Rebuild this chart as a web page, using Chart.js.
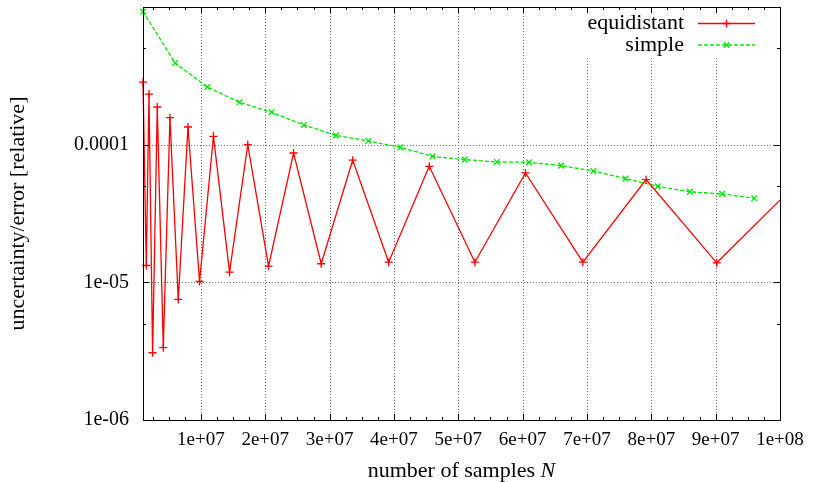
<!DOCTYPE html>
<html>
<head>
<meta charset="utf-8">
<script src="https://cdn.jsdelivr.net/npm/chart.js@4/dist/chart.umd.min.js"></script>
<style>
  html, body { margin: 0; padding: 0; background: #fff; }
  #chart { display: block; }
</style>
</head>
<body>
<canvas id="chart" width="814" height="482"></canvas>
<script>
'use strict';

// number of samples for the equidistant grid, and its relative error
var equidistantN = [1.0e6, 1.51e6, 1.93e6, 2.49e6, 3.22e6, 4.15e6, 5.19e6, 6.48e6, 7.99e6, 9.79e6,
    1.195e7, 1.445e7, 1.728e7, 2.051e7, 2.44e7, 2.87e7, 3.359e7, 3.918e7, 4.548e7, 5.258e7,
    6.044e7, 6.936e7, 7.919e7, 9.017e7, 1.022e8];
var equidistantErr = [2.85e-4, 1.325e-5, 2.33e-4, 3.08e-6, 1.877e-4, 3.35e-6, 1.57e-4, 7.51e-6, 1.344e-4, 1.014e-5,
    1.149e-4, 1.185e-5, 1.0e-4, 1.31e-5, 8.70e-5, 1.364e-5, 7.72e-5, 1.40e-5, 6.96e-5, 1.40e-5,
    6.23e-5, 1.40e-5, 5.57e-5, 1.386e-5, 5.0e-5];

// simple sampling, estimated uncertainty
var simpleN = [1e6, 6e6, 11e6, 16e6, 21e6, 26e6, 31e6, 36e6, 41e6, 46e6,
    51e6, 56e6, 61e6, 66e6, 71e6, 76e6, 81e6, 86e6, 91e6, 96e6];
var simpleErr = [9.27e-4, 3.92e-4, 2.62e-4, 2.03e-4, 1.72e-4, 1.39e-4, 1.168e-4, 1.064e-4, 9.56e-5, 8.22e-5,
    7.79e-5, 7.49e-5, 7.44e-5, 7.04e-5, 6.44e-5, 5.67e-5, 4.98e-5, 4.54e-5, 4.39e-5, 4.08e-5];

var xTickValues = [1e7, 2e7, 3e7, 4e7, 5e7, 6e7, 7e7, 8e7, 9e7, 1e8];
var xTickLabels = ['1e+07', '2e+07', '3e+07', '4e+07', '5e+07', '6e+07', '7e+07', '8e+07', '9e+07', '1e+08'];
var xMinorStep = 2.5e6;
var yTickValues = [1e-6, 1e-5, 1e-4, 1e-3];
var yTickLabels = ['1e-06', '1e-05', '0.0001', ''];
var yMinorValues = [5e-6, 5e-5, 5e-4];

var FONT = "'Liberation Serif', 'Times New Roman', serif";
Chart.defaults.font.family = FONT;
Chart.defaults.font.size = 19;
Chart.defaults.color = '#000';

function toPoints(xs, ys) {
    return xs.map(function(x, i) { return { x: x, y: ys[i] }; });
}

// dotted grid, frame and inward (mirrored) tick marks like gnuplot
var framePlugin = {
    id: 'frame',
    beforeDatasetsDraw: function(chart) {
        var ctx = chart.ctx, a = chart.chartArea;
        var xs = chart.scales.x, ys = chart.scales.y;
        ctx.save();
        ctx.strokeStyle = '#6a6a6a';
        ctx.lineWidth = 1;
        ctx.setLineDash([1, 2]);
        xTickValues.forEach(function(v) {
            var px = Math.round(xs.getPixelForValue(v)) + 0.5;
            if (px >= a.right - 1) return;
            ctx.beginPath(); ctx.moveTo(px, a.top); ctx.lineTo(px, a.bottom); ctx.stroke();
        });
        yTickValues.forEach(function(v) {
            var py = Math.round(ys.getPixelForValue(v)) + 0.5;
            if (py <= a.top + 1 || py >= a.bottom - 1) return;
            ctx.beginPath(); ctx.moveTo(a.left, py); ctx.lineTo(a.right, py); ctx.stroke();
        });
        ctx.restore();
    },
    afterDraw: function(chart) {
        var ctx = chart.ctx, a = chart.chartArea;
        var xs = chart.scales.x, ys = chart.scales.y;
        ctx.save();
        ctx.strokeStyle = '#000';
        ctx.lineWidth = 1;
        ctx.setLineDash([]);

        function tickX(v, len) {
            var px = Math.round(xs.getPixelForValue(v)) + 0.5;
            ctx.beginPath();
            ctx.moveTo(px, a.bottom); ctx.lineTo(px, a.bottom - len);
            ctx.moveTo(px, a.top); ctx.lineTo(px, a.top + len);
            ctx.stroke();
        }
        function tickY(v, len) {
            var py = Math.round(ys.getPixelForValue(v)) + 0.5;
            ctx.beginPath();
            ctx.moveTo(a.left, py); ctx.lineTo(a.left + len, py);
            ctx.moveTo(a.right, py); ctx.lineTo(a.right - len, py);
            ctx.stroke();
        }
        for (var v = xMinorStep; v < xs.max; v += xMinorStep) {
            if (v >= xs.min) tickX(v, xTickValues.indexOf(v) >= 0 ? 6 : 3);
        }
        yTickValues.forEach(function(v) { tickY(v, 6); });
        yMinorValues.forEach(function(v) { tickY(v, 3); });

        ctx.strokeRect(Math.round(a.left) + 0.5, Math.round(a.top) + 0.5,
            Math.round(a.right - a.left), Math.round(a.bottom - a.top));

        // x axis title with italic N
        var cx = (a.left + a.right) / 2, cy = 471;
        ctx.fillStyle = '#000';
        ctx.textBaseline = 'middle';
        ctx.font = '22px ' + FONT;
        var part1 = 'number of samples ';
        var w1 = ctx.measureText(part1).width;
        ctx.font = 'italic 22px ' + FONT;
        var w2 = ctx.measureText('N').width;
        var x0 = cx - (w1 + w2) / 2;
        ctx.font = '22px ' + FONT;
        ctx.textAlign = 'left';
        ctx.fillText(part1, x0, cy);
        ctx.font = 'italic 22px ' + FONT;
        ctx.fillText('N', x0 + w1, cy);
        ctx.restore();
    }
};

// key in the top right corner: label on the left, line sample on the right
var keyPlugin = {
    id: 'key',
    afterDatasetsDraw: function(chart) {
        var ctx = chart.ctx;
        var textRight = 684, lineL = 698, lineR = 755, rows = [23.5, 45];
        ctx.save();
        ctx.fillStyle = '#fff';
        ctx.fillRect(578, 8, 186, 48);
        chart.data.datasets.forEach(function(ds, i) {
            var y = rows[i];
            ctx.fillStyle = '#000';
            ctx.font = '22px ' + FONT;
            ctx.textAlign = 'right';
            ctx.textBaseline = 'middle';
            ctx.fillText(ds.label, textRight, y);
            ctx.strokeStyle = ds.borderColor;
            ctx.lineWidth = ds.borderWidth;
            ctx.setLineDash(ds.borderDash || []);
            ctx.beginPath(); ctx.moveTo(lineL, y); ctx.lineTo(lineR, y); ctx.stroke();
            ctx.setLineDash([]);
            Chart.helpers.drawPoint(ctx, {
                pointStyle: ds.pointStyle,
                radius: ds.pointRadius,
                borderWidth: ds.pointBorderWidth,
                rotation: 0
            }, (lineL + lineR) / 2, y);
        });
        ctx.restore();
    }
};

new Chart(document.getElementById('chart'), {
    type: 'line',
    data: {
        datasets: [
            {
                label: 'equidistant',
                data: toPoints(equidistantN, equidistantErr),
                borderColor: '#ff0000',
                backgroundColor: '#ff0000',
                borderWidth: 1.3,
                pointStyle: 'cross',
                pointRadius: 4,
                pointBorderWidth: 1.3,
                tension: 0,
                fill: false,
                clip: { left: 8, top: 8, right: 0, bottom: 8 }
            },
            {
                label: 'simple',
                data: toPoints(simpleN, simpleErr),
                borderColor: '#00e600',
                backgroundColor: '#00e600',
                borderWidth: 1.3,
                borderDash: [4, 2],
                pointStyle: 'crossRot',
                pointRadius: 4,
                pointBorderWidth: 1.3,
                tension: 0,
                fill: false,
                clip: 8
            }
        ]
    },
    options: {
        responsive: false,
        animation: false,
        devicePixelRatio: 1,
        layout: { padding: { top: 7, right: 34, bottom: 0, left: 0 } },
        plugins: {
            legend: { display: false },
            tooltip: { enabled: false }
        },
        scales: {
            x: {
                type: 'linear',
                min: 1e6,
                max: 1e8,
                grid: { display: false, drawTicks: false },
                border: { display: false },
                afterBuildTicks: function(scale) {
                    scale.ticks = xTickValues.map(function(v) { return { value: v }; });
                },
                afterFit: function(scale) {
                    scale.height = 62;
                    scale.paddingLeft = 0;
                    scale.paddingRight = 0;
                },
                ticks: {
                    autoSkip: false,
                    maxRotation: 0,
                    padding: 9,
                    font: { size: 19 },
                    callback: function(value, index) { return xTickLabels[index]; }
                }
            },
            y: {
                type: 'logarithmic',
                min: 1e-6,
                max: 1e-3,
                grid: { display: false, drawTicks: false },
                border: { display: false },
                afterBuildTicks: function(scale) {
                    scale.ticks = yTickValues.map(function(v) { return { value: v }; });
                },
                afterFit: function(scale) {
                    scale.width = 143;
                    scale.paddingTop = 0;
                    scale.paddingBottom = 0;
                },
                title: {
                    display: true,
                    text: 'uncertainty/error [relative]',
                    font: { size: 22 },
                    padding: { top: 5, bottom: 0 }
                },
                ticks: {
                    autoSkip: false,
                    padding: 14,
                    font: { size: 20 },
                    callback: function(value, index) { return yTickLabels[index]; }
                }
            }
        }
    },
    plugins: [framePlugin, keyPlugin]
});
</script>
</body>
</html>
